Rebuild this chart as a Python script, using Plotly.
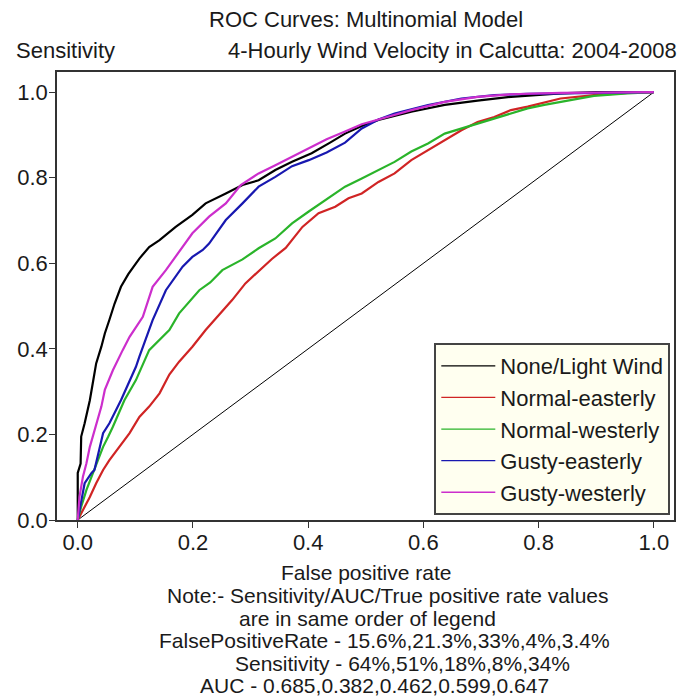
import plotly.graph_objects as go

# ---------------- data ----------------
series_names = ["None/Light Wind", "Normal-easterly", "Normal-westerly",
                "Gusty-easterly", "Gusty-westerly"]
series_colors = ["#000000", "#D02424", "#2AB42A", "#1818B0", "#CC2ECC"]

fpr_none = [0, 0, 0.005, 0.006, 0.012, 0.021, 0.026, 0.032, 0.041, 0.047, 0.055, 0.064,
            0.075, 0.088, 0.107, 0.124, 0.142, 0.170, 0.199, 0.222, 0.257, 0.286, 0.314,
            0.343, 0.372, 0.406, 0.438, 0.464, 0.493, 0.522, 0.579, 0.637, 0.694, 0.752,
            0.838, 0.900, 1.0]
tpr_none = [0, 0.11, 0.132, 0.195, 0.226, 0.28, 0.319, 0.366, 0.405, 0.436, 0.468, 0.506,
            0.545, 0.575, 0.611, 0.638, 0.654, 0.685, 0.713, 0.740, 0.763, 0.783, 0.794,
            0.818, 0.837, 0.857, 0.882, 0.903, 0.921, 0.935, 0.954, 0.970, 0.980, 0.989,
            0.997, 1.0, 1.0]

fpr_neast = [0, 0.009, 0.021, 0.032, 0.044, 0.055, 0.073, 0.090, 0.107, 0.124, 0.142, 0.159,
             0.176, 0.199, 0.222, 0.245, 0.268, 0.291, 0.314, 0.337, 0.361, 0.390, 0.418,
             0.447, 0.470, 0.493, 0.522, 0.550, 0.579, 0.608, 0.637, 0.666, 0.694, 0.723,
             0.752, 0.781, 0.838, 0.896, 0.954, 1.0]
tpr_neast = [0, 0.023, 0.054, 0.086, 0.117, 0.140, 0.171, 0.203, 0.241, 0.265, 0.296, 0.340,
             0.370, 0.405, 0.444, 0.478, 0.514, 0.553, 0.582, 0.610, 0.636, 0.685, 0.717,
             0.732, 0.752, 0.763, 0.790, 0.810, 0.841, 0.864, 0.888, 0.911, 0.930, 0.942,
             0.958, 0.966, 0.985, 0.993, 0.998, 1.0]

fpr_nwest = [0, 0.006, 0.015, 0.026, 0.035, 0.044, 0.053, 0.061, 0.081, 0.101, 0.124, 0.136,
             0.159, 0.176, 0.211, 0.230, 0.251, 0.286, 0.314, 0.343, 0.372, 0.401, 0.432,
             0.464, 0.493, 0.522, 0.550, 0.579, 0.608, 0.637, 0.666, 0.694, 0.723, 0.752,
             0.781, 0.810, 0.838, 0.896, 0.954, 1.0]
tpr_nwest = [0, 0.031, 0.070, 0.109, 0.140, 0.171, 0.195, 0.218, 0.280, 0.327, 0.397, 0.413,
             0.444, 0.483, 0.537, 0.555, 0.584, 0.609, 0.635, 0.658, 0.693, 0.721, 0.750,
             0.779, 0.798, 0.818, 0.837, 0.861, 0.880, 0.903, 0.915, 0.927, 0.939, 0.950,
             0.962, 0.970, 0.977, 0.991, 0.997, 1.0]

fpr_geast = [0, 0.005, 0.012, 0.024, 0.029, 0.044, 0.055, 0.075, 0.090, 0.101, 0.107, 0.124,
             0.130, 0.153, 0.182, 0.199, 0.217, 0.228, 0.257, 0.286, 0.314, 0.343, 0.372,
             0.401, 0.432, 0.464, 0.493, 0.522, 0.550, 0.608, 0.666, 0.723, 0.780, 1.0]
tpr_geast = [0, 0.039, 0.086, 0.110, 0.117, 0.203, 0.226, 0.280, 0.327, 0.358, 0.382, 0.444,
             0.467, 0.537, 0.592, 0.615, 0.631, 0.646, 0.701, 0.740, 0.779, 0.802, 0.827,
             0.841, 0.859, 0.882, 0.915, 0.936, 0.950, 0.970, 0.985, 0.993, 0.996, 1.0]

fpr_gwest = [0, 0.003, 0.009, 0.015, 0.021, 0.026, 0.032, 0.041, 0.047, 0.061, 0.078, 0.090,
             0.113, 0.130, 0.153, 0.179, 0.199, 0.228, 0.257, 0.283, 0.314, 0.343, 0.372,
             0.401, 0.432, 0.464, 0.493, 0.522, 0.579, 0.637, 0.694, 0.752, 0.838, 1.0]
tpr_gwest = [0, 0.054, 0.101, 0.132, 0.171, 0.195, 0.226, 0.265, 0.304, 0.350, 0.397, 0.428,
             0.475, 0.545, 0.584, 0.631, 0.670, 0.709, 0.740, 0.783, 0.810, 0.829, 0.849,
             0.868, 0.890, 0.908, 0.925, 0.936, 0.958, 0.977, 0.989, 0.995, 0.998, 1.0]

series_fpr = [fpr_none, fpr_neast, fpr_nwest, fpr_geast, fpr_gwest]
series_tpr = [tpr_none, tpr_neast, tpr_nwest, tpr_geast, tpr_gwest]

diag_x = [0, 1]
diag_y = [0, 1]

x_ticks = [0, 0.2, 0.4, 0.6, 0.8, 1.0]
x_ticklabels = ["0.0", "0.2", "0.4", "0.6", "0.8", "1.0"]
y_ticks = [0, 0.2, 0.4, 0.6, 0.8, 1.0]
y_ticklabels = ["0.0", "0.2", "0.4", "0.6", "0.8", "1.0"]

title_line1 = "ROC Curves: Multinomial Model"
title_line2 = "4-Hourly Wind Velocity in Calcutta: 2004-2008"
y_label = "Sensitivity"
x_label = "False positive rate"
note_lines = [
    "Note:- Sensitivity/AUC/True positive rate values",
    "are in same order of legend",
    "FalsePositiveRate - 15.6%,21.3%,33%,4%,3.4%",
    "Sensitivity - 64%,51%,18%,8%,34%",
    "AUC - 0.685,0.382,0.462,0.599,0.647",
]

# ---------------- figure ----------------
FONT = "Liberation Sans, Arial, sans-serif"
TXT = "#1a1a1a"
FS = 22
NOTE_FS = 21

fig = go.Figure()
fig.add_trace(go.Scatter(x=diag_x, y=diag_y, mode="lines",
                         line=dict(color="#000000", width=1),
                         showlegend=False, hoverinfo="skip"))
for name, color, fx, ty in zip(series_names, series_colors, series_fpr, series_tpr):
    fig.add_trace(go.Scatter(x=fx, y=ty, mode="lines", name=name,
                             showlegend=False, line=dict(color=color, width=2.2)))
# thin legend entries (legend only, no visible data)
for name, color in zip(series_names, series_colors):
    fig.add_trace(go.Scatter(x=[None], y=[None], mode="lines", name=name,
                             showlegend=True, hoverinfo="skip",
                             line=dict(color=color, width=1.3)))

W, H = 682, 700
L, R, T, B = 57, 6, 72, 180
pw, ph = W - L - R, H - T - B


def px(xp):
    return (xp - L) / pw


def py(yp):
    return (T + ph - yp) / ph


annotations = [
    dict(text=title_line1, x=px(367), y=py(20), xanchor="center", yanchor="middle", fs=FS),
    dict(text=y_label, x=px(14), y=py(50), xanchor="left", yanchor="middle", fs=FS),
    dict(text=title_line2, x=px(681), y=py(50), xanchor="right", yanchor="middle", fs=FS),
    dict(text=x_label, x=px(367), y=py(572.5), xanchor="center", yanchor="middle", fs=NOTE_FS),
]
note_centers = [389, 369, 386, 404, 376]
note_ys = [595.5, 618, 640.5, 663, 685.5]
for t, cx, cy in zip(note_lines, note_centers, note_ys):
    annotations.append(dict(text=t, x=px(cx), y=py(cy), xanchor="center",
                            yanchor="middle", fs=NOTE_FS))
for a in annotations:
    size = a.pop("fs")
    a.update(xref="paper", yref="paper", showarrow=False,
             font=dict(family=FONT, color=TXT, size=size))

axis_common = dict(showgrid=False, zeroline=False, showline=True, mirror=True,
                   linecolor="#333333", linewidth=1.5, ticks="outside", ticklen=6,
                   tickwidth=1.2, tickcolor="#333333",
                   tickfont=dict(family=FONT, size=FS, color=TXT))

fig.update_layout(
    width=W, height=H,
    margin=dict(l=L, r=R, t=T, b=B, pad=0),
    paper_bgcolor="white", plot_bgcolor="white",
    font=dict(family=FONT, color=TXT),
    xaxis=dict(range=[-0.036, 1.035], tickvals=x_ticks, ticktext=x_ticklabels,
               ticklabelstandoff=-4, **axis_common),
    yaxis=dict(range=[0, 1.047], tickvals=y_ticks, ticktext=y_ticklabels,
               ticklabelstandoff=-3, **axis_common),
    legend=dict(x=0.994, y=0.011, xanchor="right", yanchor="bottom",
                bgcolor="#FFFFF0", bordercolor="#444444", borderwidth=2,
                font=dict(family=FONT, size=22, color=TXT),
                itemwidth=54, tracegroupgap=0),
    annotations=annotations,
    showlegend=True,
)

fig.write_html("out.html")
